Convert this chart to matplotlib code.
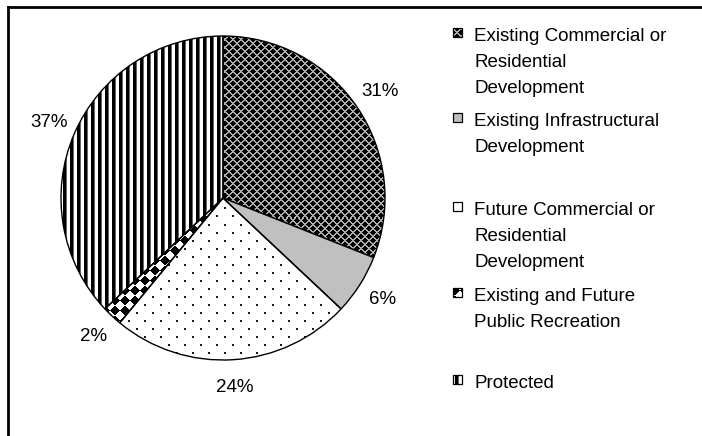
import numpy as np
import matplotlib
matplotlib.use("Agg")
import matplotlib.pyplot as plt
from matplotlib.patches import Rectangle
from matplotlib.lines import Line2D

# data
categories = ["Existing Commercial or\nResidential\nDevelopment",
              "Existing Infrastructural\nDevelopment",
              "Future Commercial or\nResidential\nDevelopment",
              "Existing and Future\nPublic Recreation",
              "Protected"]
shares = [31, 6, 24, 2, 37]
fills = ["cross", "grey", "dots", "checker", "stripes"]

W, H = 702, 436
plt.rcParams['font.family'] = ['Liberation Sans', 'DejaVu Sans']

fig = plt.figure(figsize=(W / 100, H / 100), dpi=100)
ax = fig.add_axes([0, 0, 1, 1])

# pixel textures for the hatched slices (row 0 = top of figure)
yy, xx = np.mgrid[0:H, 0:W]


def texture(kind):
    img = np.ones((H, W, 3))
    if kind == "cross":
        img[:] = 0.0
        m = ((xx + yy) % 8 < 2) | ((xx - yy) % 8 < 2)
        img[m] = 0.68
    elif kind == "dots":
        row = yy // 8
        m = (yy % 8 < 2) & ((xx + (row % 2) * 8) % 16 < 2)
        img[m] = 0.1
    elif kind == "checker":
        u = (xx + yy) // 10
        v = (xx - yy) // 10
        img[(u + v) % 2 == 0] = 0.0
    elif kind == "stripes":
        img[xx % 7 < 3] = 0.0
        img[xx % 7 == 3] = 0.4
    return img


textures = {k: texture(k) for k in ["cross", "dots", "checker", "stripes"]}

cx, cy, r = 223, H - 198, 162
wedges, _, pct = ax.pie(shares, startangle=90, counterclock=False,
                        center=(cx, cy), radius=r, frame=True,
                        autopct='%1.0f%%', pctdistance=1.17,
                        textprops=dict(fontsize=13.5, color='black'),
                        wedgeprops=dict(edgecolor='black', linewidth=1.0))

for w, kind in zip(wedges, fills):
    if kind == "grey":
        w.set_facecolor('#c0c0c0')
        continue
    w.set_facecolor('none')
    im = ax.imshow(textures[kind], extent=(0, W, 0, H), origin='upper',
                   interpolation='nearest', zorder=0.5, aspect='auto')
    im.set_clip_path(w)

# legend, laid out like the original
legend_top = [28, 113, 202, 288, 375]
line_step = 26
for label, kind, top in zip(categories, fills, legend_top):
    box = Rectangle((453, H - top - 9), 9, 9, facecolor='none',
                    edgecolor='black', linewidth=0.9, zorder=2)
    ax.add_patch(box)
    if kind == "grey":
        box.set_facecolor('#c0c0c0')
    else:
        im = ax.imshow(textures[kind], extent=(0, W, 0, H), origin='upper',
                       interpolation='nearest', zorder=1, aspect='auto')
        im.set_clip_path(box)
    for i, line in enumerate(label.split("\n")):
        ax.text(474, H - (top + 13.4 + i * line_step), line, fontsize=13.5,
                va='baseline', ha='left')

ax.set_xlim(0, W)
ax.set_ylim(0, H)
ax.axis('off')

# frame: top and left edges only
fig.add_artist(Line2D([7.5 / W, 1], [1 - 7.5 / H, 1 - 7.5 / H], color='black', lw=2))
fig.add_artist(Line2D([7.5 / W, 7.5 / W], [0, 1 - 7.5 / H], color='black', lw=2))

fig.savefig("out.png", dpi=100)
